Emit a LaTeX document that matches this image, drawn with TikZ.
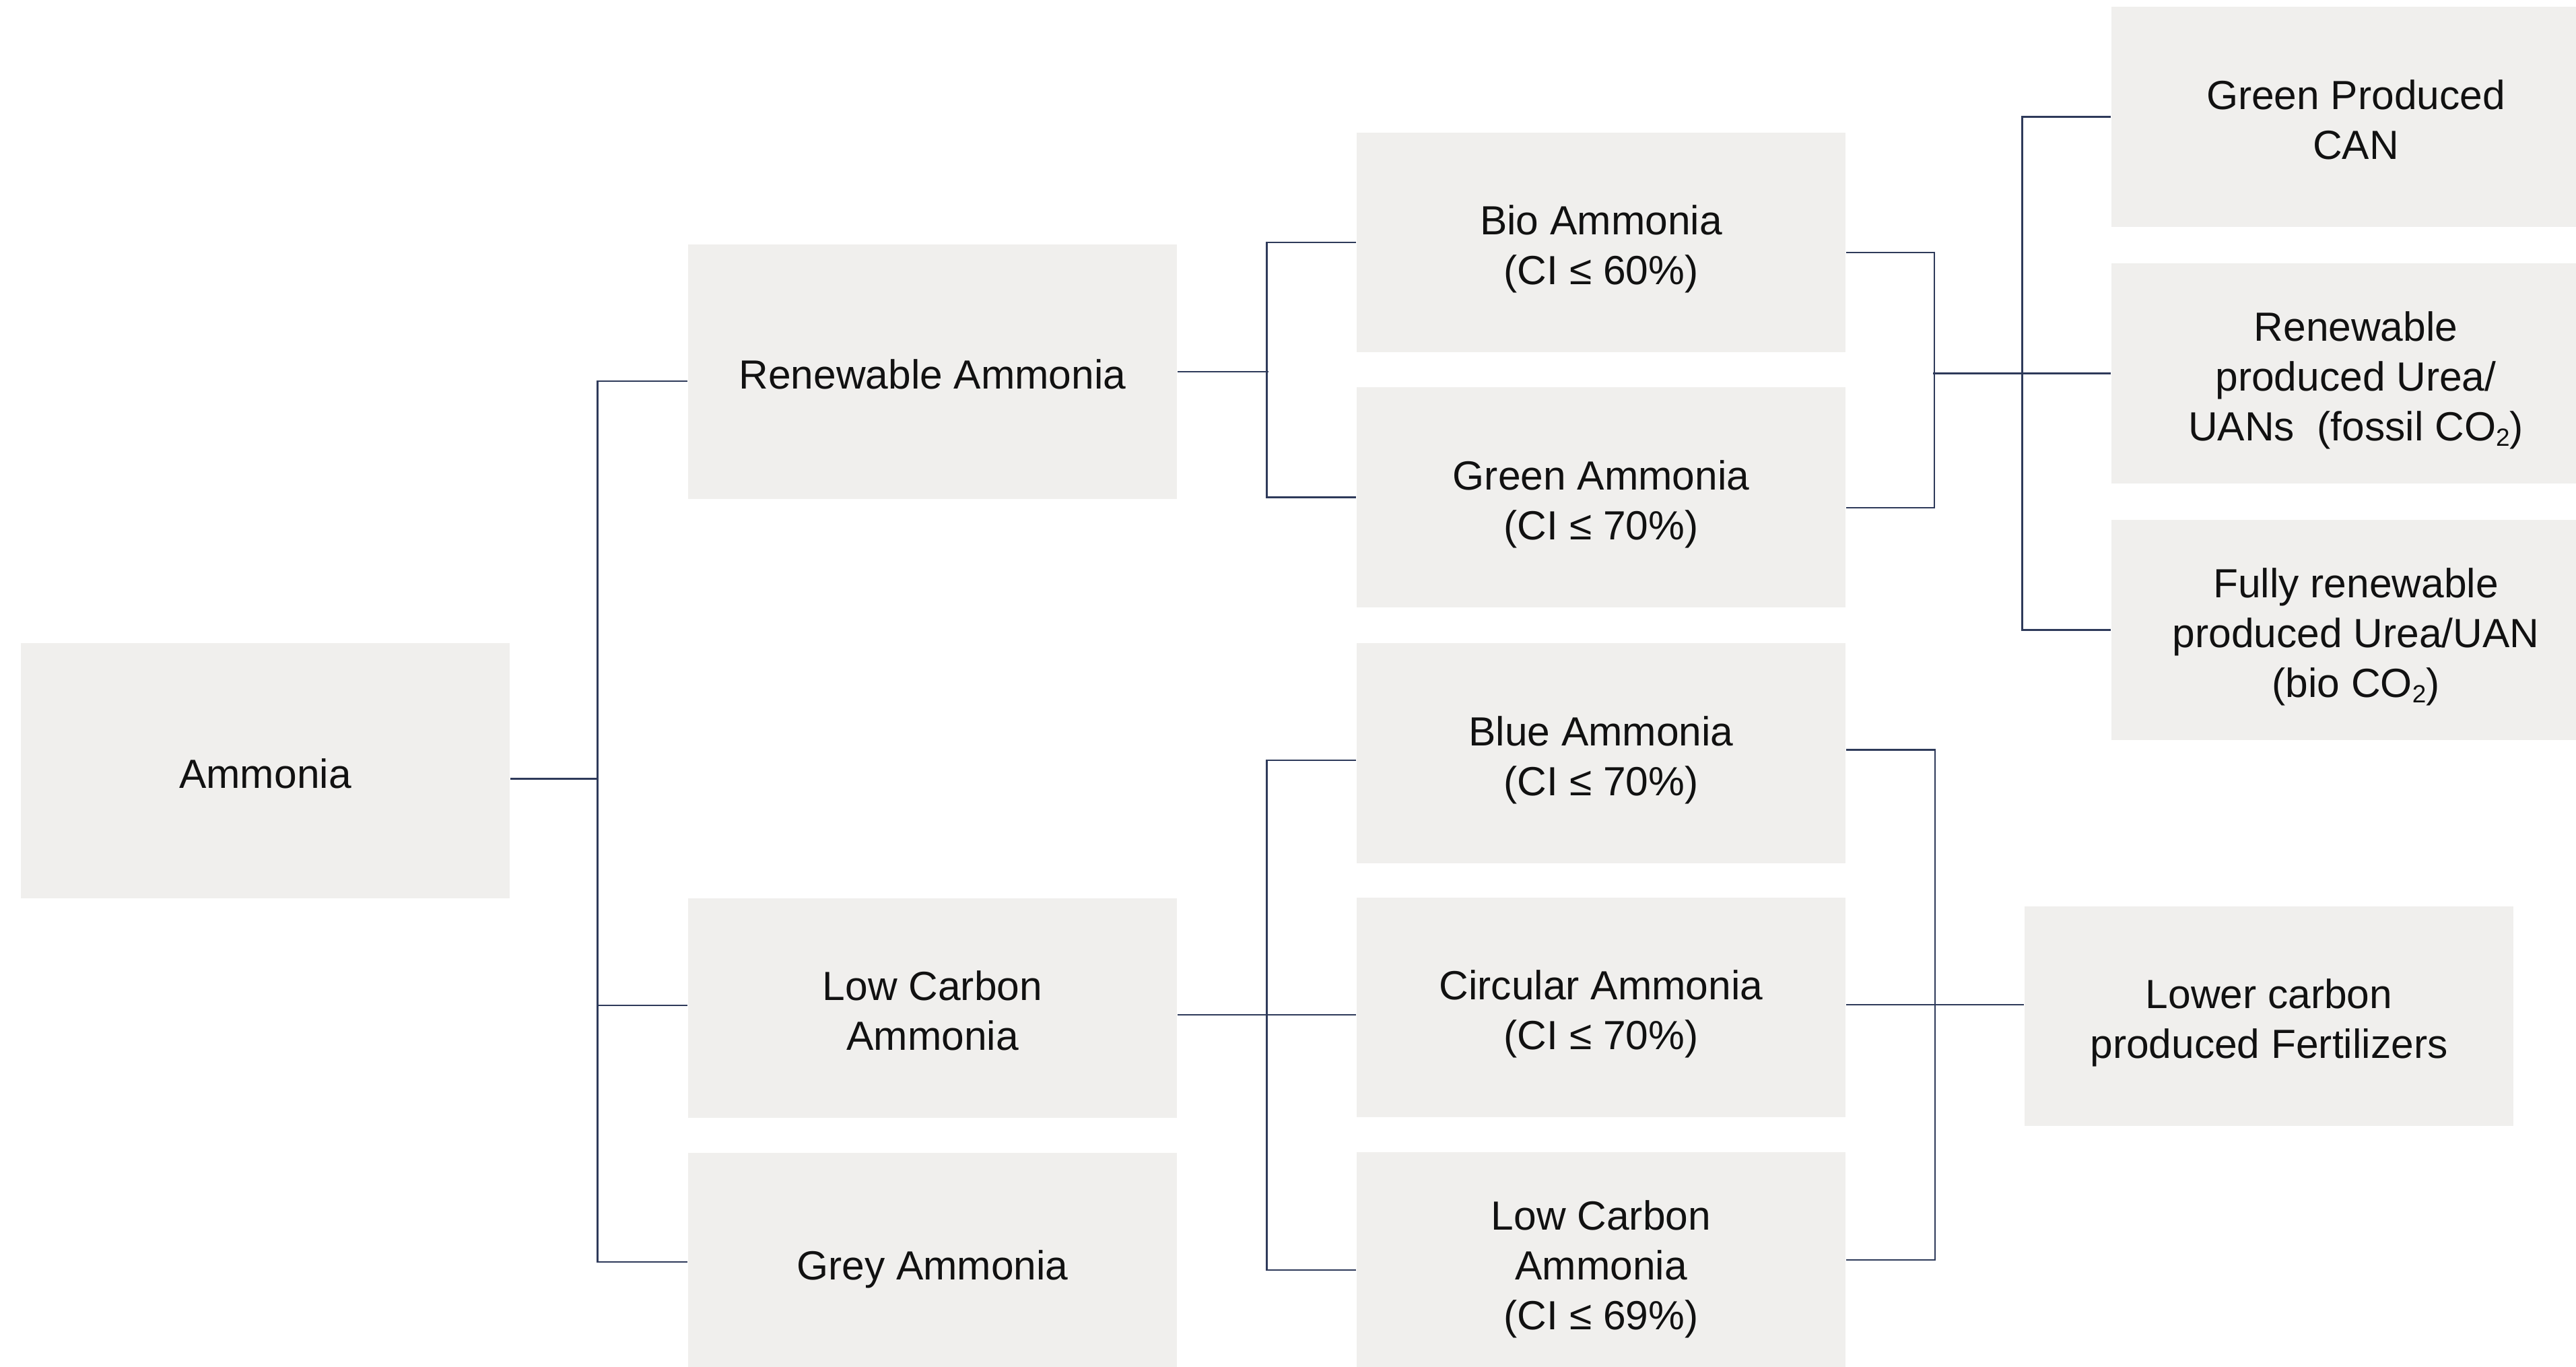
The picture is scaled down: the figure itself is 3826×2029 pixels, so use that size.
\documentclass[tikz,border=0pt]{standalone}
\usepackage{fontspec}
\setmainfont{Liberation Sans}
\usetikzlibrary{calc}
\definecolor{boxfill}{HTML}{F0EFED}
\definecolor{linecol}{HTML}{2E3A5A}
\definecolor{txtcol}{HTML}{111111}
\newcommand{\subtwo}{\raisebox{-0.28ex}{\fontsize{10.5pt}{12pt}\selectfont 2}}
\newcommand{\tp}{\rule{0pt}{14.6pt}}
\tikzset{
  box/.style={fill=boxfill, draw=none, minimum width=7.26cm, minimum height=3.26cm,
    inner sep=0pt, align=center, text=txtcol, text depth=0pt,
    font=\fontsize{17.2pt}{21pt}\selectfont},
  conn/.style={draw=linecol, line width=0.8pt}
}
\begin{document}
\begin{tikzpicture}[x=0.01cm,y=-0.01cm]
\useasboundingbox (0,0) rectangle (3826,2029);
\clip (0,0) rectangle (3826,2029);
% boxes
\node[box, minimum height=3.79cm] (amm) at (394,1144.5) {\tp Ammonia};
\node[box, minimum height=3.77cm] (ren) at (1385,552) {\tp Renewable Ammonia};
\node[box] (lc2) at (1385,1497) {\tp Low Carbon\\Ammonia};
\node[box] (grey) at (1385,1875) {\tp Grey Ammonia};
\node[box] (bio) at (2378,360) {\tp Bio Ammonia\\(CI ≤ 60\%)};
\node[box] (green) at (2378,738.5) {\tp Green Ammonia\\(CI ≤ 70\%)};
\node[box] (blue) at (2378,1118.5) {\tp Blue Ammonia\\(CI ≤ 70\%)};
\node[box] (circ) at (2378,1496) {\tp Circular Ammonia\\(CI ≤ 70\%)};
\node[box] (lc3) at (2378,1874.5) {\tp Low Carbon\\Ammonia\\(CI ≤ 69\%)};
\node[box] (can) at (3499,173.5) {\tp Green Produced\\CAN};
\node[box] (urea) at (3499,554.5) {\tp Renewable\\produced Urea/\\UANs\ \ (fossil CO\subtwo)};
\node[box] (fully) at (3499,935.5) {\tp Fully renewable\\produced Urea/UAN\\(bio CO\subtwo)};
\node[box] (fert) at (3370,1509) {\tp Lower carbon\\produced Fertilizers};
% level 1 connectors
\draw[conn] ($(amm.east)+(0,12)$) -- ++(131,0);
\draw[conn] ($(ren.west)+(0,14)$) -- ++(-134,0) |- ($(grey.west)+(0,-1)$);
\draw[conn] ($(lc2.west)+(0,-4)$) -- ++(-134,0);
% renewable -> bio, green
\draw[conn] (ren.east) -- ++(135,0);
\draw[conn] (bio.west) -- ++(-133,0) |- (green.west);
% low carbon -> blue, circular, low carbon
\draw[conn] ($(lc2.east)+(0,10)$) -- ($(circ.west)+(0,11)$);
\draw[conn] ($(blue.west)+(0,10.5)$) -- ++(-133,0) |- ($(lc3.west)+(0,11.5)$);
% bio, green -> fertilizers
\draw[conn] ($(bio.east)+(0,15)$) -- ++(131,0) |- ($(green.east)+(0,15.5)$);
\draw[conn] (urea.west) -- ++(-264,0);
\draw[conn] (can.west) -- ++(-132,0) |- (fully.west);
% blue, circular, low carbon -> lower carbon fertilizers
\draw[conn] ($(blue.east)+(0,-5)$) -- ++(132,0) |- ($(lc3.east)+(0,-3.5)$);
\draw[conn] ($(circ.east)+(0,-4)$) -- ($(fert.west)+(0,-17)$);
\end{tikzpicture}
\end{document}
